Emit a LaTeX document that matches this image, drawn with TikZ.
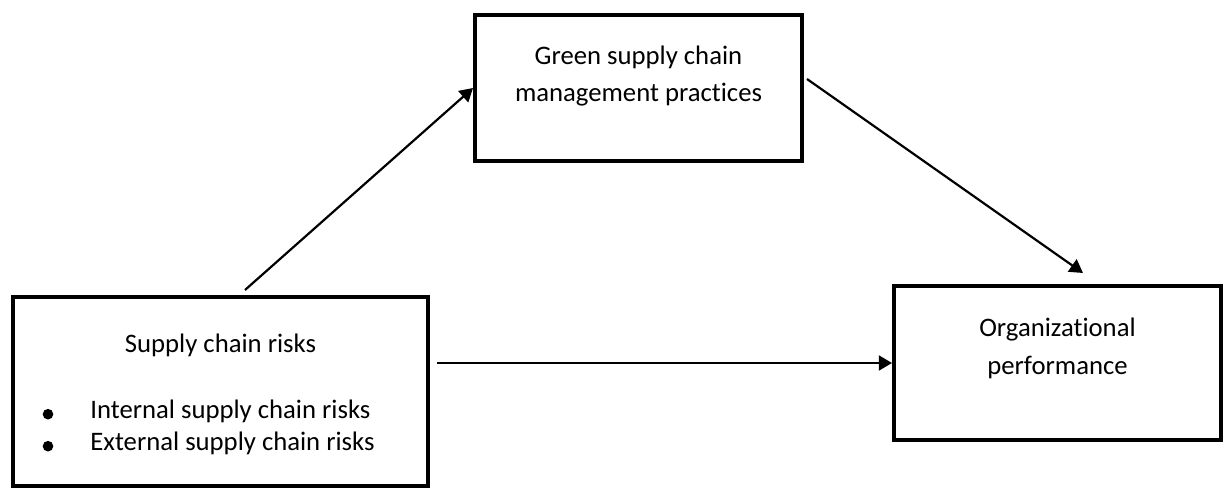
\documentclass[tikz,border=0pt]{standalone}
\usepackage{fontspec}
\setmainfont{Carlito}[Ligatures=NoCommon]
\usetikzlibrary{arrows.meta}

\begin{document}
\begin{tikzpicture}[x=.02cm,y=.02cm,
      every node/.style={font=\fontsize{15.2}{21.5}\selectfont,inner sep=0pt},
      box/.style={draw,line width=2.3pt,minimum width=6.54cm,minimum height=2.92cm},
      link/.style={line width=1.25pt,-{Triangle[length=7.5pt,width=8.5pt]}}]
    \useasboundingbox (0,0) rectangle (1225,491);

    % boxes
    \node[box] (gscm) at (638.5,403) {};
    \node[box,minimum width=8.3cm,minimum height=3.78cm] (risk) at (220.5,99.5) {};
    \node[box,minimum height=3.08cm] (perf) at (1057.5,128) {};

    % texts
    \node[align=center] (gscmtxt) at (638.5,415) {Green supply chain\\management practices};
    \node[align=center] (perftxt) at (1057.5,143) {Organizational\\performance};
    \node[anchor=base] (risktxt) at (220.5,139) {Supply chain risks};
    \node[anchor=base west] (intrisk) at (90,73) {Internal supply chain risks};
    \node[anchor=base west] (extrisk) at (90,41) {External supply chain risks};
    \foreach \y in {73,41}
      \fill (48,\y+3.8) circle (5.3);

    % arrows
    \draw[link] ([shift={(.49cm,.1cm)}]risk.north) -- (gscm.west);
    \draw[link] ([shift={(.06cm,.18cm)}]gscm.east) -- ([shift={(.51cm,.22cm)}]perf.north);
    \draw[link] ([xshift=.14cm]risk.east |- perf.west) -- (perf.west);
  \end{tikzpicture}
\end{document}
